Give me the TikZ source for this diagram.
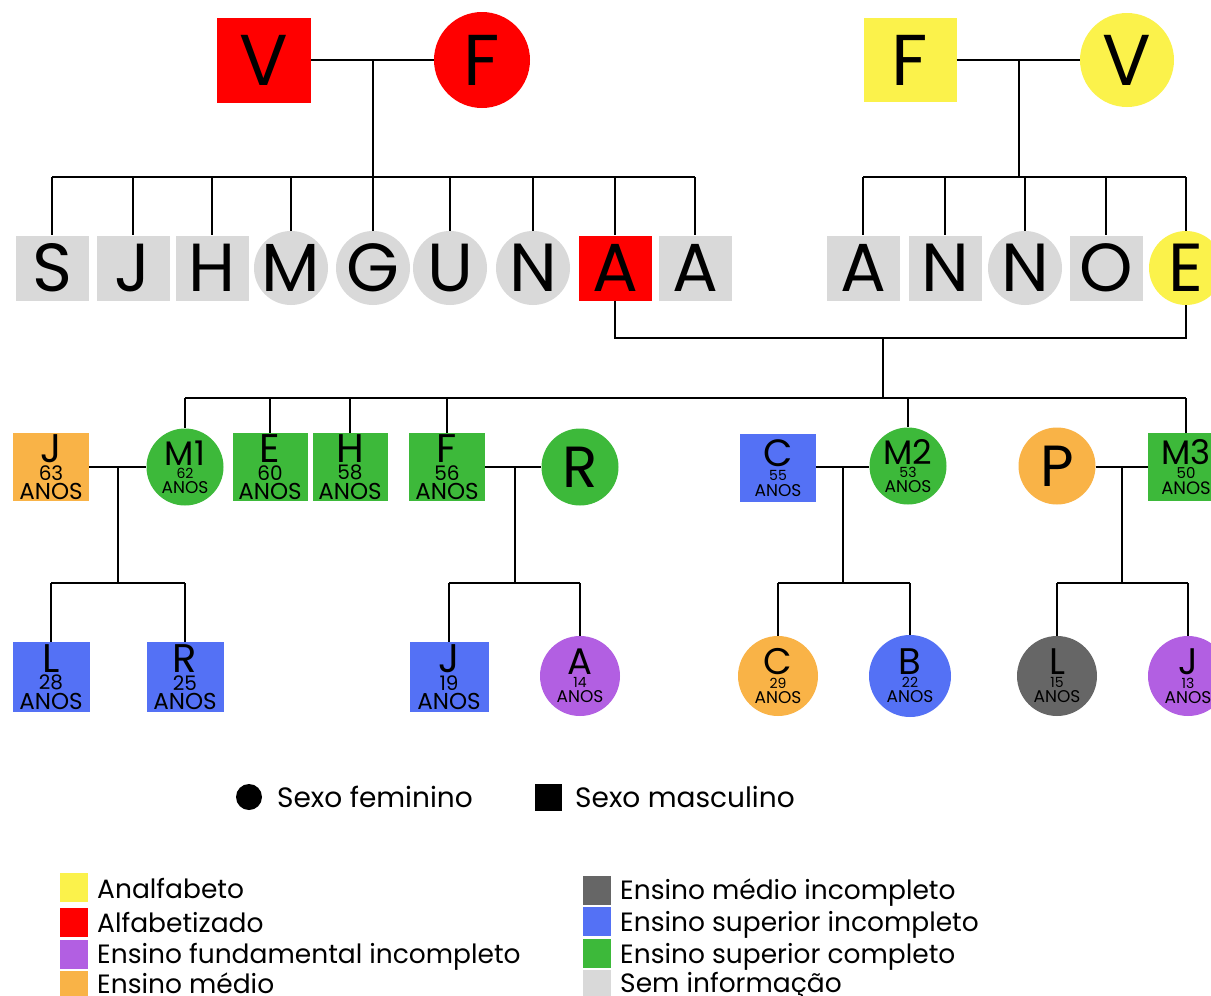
\documentclass[tikz,border=0pt]{standalone}
\usepackage{fontspec}
\setmainfont{Poppins}
\definecolor{cred}{HTML}{FF0000}
\definecolor{cyel}{HTML}{FBF24B}
\definecolor{cgray}{HTML}{D9D9D9}
\definecolor{cgreen}{HTML}{3DB93A}
\definecolor{corange}{HTML}{F9B347}
\definecolor{cblue}{HTML}{5471F5}
\definecolor{cpurple}{HTML}{B25FE2}
\definecolor{cdgray}{HTML}{666666}
\newcommand\ptxt[6]{\vbox{\offinterlineskip\halign{\hfil##\hfil\cr
\fontsize{#3}{#3}\selectfont #1\cr\noalign{\kern#6}
\fontsize{#4}{#4}\selectfont #2\cr\noalign{\kern#6}
\fontsize{#5}{#5}\selectfont ANOS\cr}}}
\newcommand\sqt[2]{\ptxt{#1}{#2}{40}{20}{23}{3pt}}
\newcommand\cit[2]{\makebox[0pt]{\ptxt{#1}{#2}{34}{14}{17}{3pt}}}
\newcommand\citb[2]{\makebox[0pt]{\ptxt{#1}{#2}{37}{14}{17}{3pt}}}
\newcommand\cz[1]{\makebox[0pt]{#1}}
\newcommand\fA{\fontsize{72}{72}\selectfont}
\newcommand\fB{\fontsize{68}{68}\selectfont}
\newcommand\fC{\fontsize{58}{58}\selectfont}
\newcommand\fL{\fontsize{26.5}{26.5}\selectfont}
\newcommand\fS{\fontsize{28}{28}\selectfont}
\tikzset{
  msq/.style={rectangle, inner sep=0pt, draw=none},
  fci/.style={circle, inner sep=0pt, draw=none},
  lnk/.style={line width=1.6pt, black},
  lgt/.style={anchor=base west, inner sep=0pt, font=\fL},
  sw/.style={rectangle, inner sep=0pt, minimum width=28pt, minimum height=29pt}
}
\begin{document}
\begin{tikzpicture}[x=1pt,y=-1pt]
\useasboundingbox (0,0) rectangle (1211,996);
\clip (0,0) rectangle (1211,996);
\fill[white] (0,0) rectangle (1211,996);

% generation 1
\node[msq, fill=cred, minimum width=94pt, minimum height=85pt, font=\fA] (v1) at (264,60) {V};
\node[fci, fill=cred, minimum size=96pt, font=\fA] (f1) at (482,60) {\cz{F}};
\node[msq, fill=cyel, minimum width=93pt, minimum height=84pt, font=\fA] (f2) at (910,60) {F};
\node[fci, fill=cyel, minimum size=94pt, font=\fA] (v2) at (1127,60) {\cz{V}};

% generation 2
\tikzset{g2s/.style={msq, minimum width=73pt, minimum height=65pt, font=\fB},
         g2c/.style={fci, minimum size=74pt, font=\fB}}
\node[g2s, fill=cgray] (s1) at (52,268) {S};
\node[g2s, fill=cgray] (s2) at (133,268) {J};
\node[g2s, fill=cgray] (s3) at (212,268) {H};
\node[g2c, fill=cgray] (s4) at (291,268) {\cz{M}};
\node[g2c, fill=cgray] (s5) at (373,268) {\cz{G}};
\node[g2c, fill=cgray] (s6) at (450,268) {\cz{U}};
\node[g2c, fill=cgray] (s7) at (533,268) {\cz{N}};
\node[g2s, fill=cred] (s8) at (615,268) {A};
\node[g2s, fill=cgray] (s9) at (695,268) {A};
\node[g2s, fill=cgray] (t1) at (863,268) {A};
\node[g2s, fill=cgray] (t2) at (945,268) {N};
\node[g2c, fill=cgray] (t3) at (1025,268) {\cz{N}};
\node[g2s, fill=cgray] (t4) at (1106,268) {O};
\node[g2c, fill=cyel] (t5) at (1186,268) {\cz{E}};

% generation 3
\tikzset{g3s/.style={msq, minimum width=76pt, minimum height=68pt},
         g3c/.style={fci, minimum size=77pt}}
\node[g3s, fill=corange] (j3) at (51,467) {\sqt{J}{63}};
\node[g3c, fill=cgreen] (m13) at (185,467) {\cit{M1}{62}};
\node[g3s, fill=cgreen, minimum width=75pt] (e3) at (270,467) {\sqt{E}{60}};
\node[g3s, fill=cgreen, minimum width=75pt] (h3) at (350,467) {\sqt{H}{58}};
\node[g3s, fill=cgreen] (f3) at (447,467) {\sqt{F}{56}};
\node[g3c, fill=cgreen, font=\fC] (r3) at (580,467) {\cz{R}};
\node[g3s, fill=cblue] (c3) at (778,468) {\makebox[0pt]{\ptxt{C}{55}{38}{14}{17}{4pt}}};
\node[g3c, fill=cgreen] (m23) at (908,466) {\cit{M2}{53}};
\node[g3c, fill=corange, font=\fC] (p3) at (1057,466) {\cz{P}};
\node[g3s, fill=cgreen] (m33) at (1186,467) {\makebox[0pt]{\ptxt{M3}{50}{34}{15}{18}{3pt}}};

% generation 4
\tikzset{g4s/.style={msq, minimum width=77pt, minimum height=70pt},
         g4c/.style={fci, minimum size=80pt}}
\node[g4s, fill=cblue] (l4) at (51,677) {\sqt{L}{28}};
\node[g4s, fill=cblue] (r4) at (185,677) {\sqt{R}{25}};
\node[g4s, fill=cblue, minimum width=79pt] (j4) at (449,677) {\sqt{J}{19}};
\node[g4c, fill=cpurple] (a4) at (580,676) {\citb{A}{14}};
\node[g4c, fill=corange] (c4) at (778,676) {\citb{C}{29}};
\node[g4c, fill=cblue, minimum size=82pt] (b4) at (910,676) {\citb{B}{22}};
\node[g4c, fill=cdgray] (l44) at (1057,676) {\citb{L}{15}};
\node[g4c, fill=cpurple] (j44) at (1188,676) {\citb{J}{13}};

% connectors generation 1 -> 2
\coordinate (m1) at (373,60);
\coordinate (b1) at (373,177);
\draw[lnk] (v1) -- (f1);
\draw[lnk] (m1) -- (b1);
\draw[lnk] (s1.north |- b1) -- (s9.north |- b1);
\foreach \n in {s1,s2,s3,s4,s5,s6,s7,s8,s9}
  \draw[lnk] (\n.north |- b1) -- (\n.north);

\coordinate (m2) at (1019,60);
\coordinate (b2) at (1019,177);
\draw[lnk] (f2) -- (v2);
\draw[lnk] (m2) -- (b2);
\draw[lnk] (t1.north |- b2) -- (t5.north |- b2);
\foreach \n in {t1,t2,t3,t4,t5}
  \draw[lnk] (\n.north |- b2) -- (\n.north);

% A + E
\coordinate (mae) at (883,338);
\coordinate (b3) at (883,398);
\draw[lnk] (s8.south) -- (s8.south |- mae) -- (t5.south |- mae) -- (t5.south);
\draw[lnk] (mae) -- (b3);
\draw[lnk] (m13.north |- b3) -- (m33.north |- b3);
\foreach \n in {m13,e3,h3,f3,m23,m33}
  \draw[lnk] (\n.north |- b3) -- (\n.north);

% generation 3 couples
\coordinate (q1) at (118,467);
\coordinate (q1b) at (118,583);
\draw[lnk] (j3) -- (m13);
\draw[lnk] (q1) -- (q1b);
\draw[lnk] (l4.north |- q1b) -- (r4.north |- q1b);
\foreach \n in {l4,r4} \draw[lnk] (\n.north |- q1b) -- (\n.north);

\coordinate (q2) at (515,467);
\coordinate (q2b) at (515,583);
\draw[lnk] (f3) -- (r3);
\draw[lnk] (q2) -- (q2b);
\draw[lnk] (j4.north |- q2b) -- (a4.north |- q2b);
\foreach \n in {j4,a4} \draw[lnk] (\n.north |- q2b) -- (\n.north);

\coordinate (q3) at (843,467);
\coordinate (q3b) at (843,583);
\draw[lnk] (c3.east |- q3) -- (m23.west |- q3);
\draw[lnk] (q3) -- (q3b);
\draw[lnk] (c4.north |- q3b) -- (b4.north |- q3b);
\foreach \n in {c4,b4} \draw[lnk] (\n.north |- q3b) -- (\n.north);

\coordinate (q4) at (1122,467);
\coordinate (q4b) at (1122,583);
\draw[lnk] (p3.east |- q4) -- (m33.west |- q4);
\draw[lnk] (q4) -- (q4b);
\draw[lnk] (l44.north |- q4b) -- (j44.north |- q4b);
\foreach \n in {l44,j44} \draw[lnk] (\n.north |- q4b) -- (\n.north);

% legend: sex
\node[fci, fill=black, minimum size=26pt] (lf) at (249,797) {};
\node[lgt, font=\fS] (lft) at (277,807) {Sexo feminino};
\node[msq, fill=black, minimum size=27pt] (lm) at (548,797) {};
\node[lgt, font=\fS] (lmt) at (575,807) {Sexo masculino};

% legend: education
\node[sw, fill=cyel] (k1) at (74,887) {};
\node[sw, fill=cred] (k2) at (74,922) {};
\node[sw, fill=cpurple] (k3) at (74,954) {};
\node[sw, fill=corange] (k4) at (74,985) {};
\node[lgt] (k1t) at (97,898) {Analfabeto};
\node[lgt] (k2t) at (97,932) {Alfabetizado};
\node[lgt] (k3t) at (97,963) {Ensino fundamental incompleto};
\node[lgt] (k4t) at (97,993) {Ensino médio};
\node[sw, fill=cdgray] (k5) at (597,890) {};
\node[sw, fill=cblue] (k6) at (597,921) {};
\node[sw, fill=cgreen] (k7) at (597,953) {};
\node[sw, fill=cgray] (k8) at (597,984) {};
\node[lgt] (k5t) at (620,899) {Ensino médio incompleto};
\node[lgt] (k6t) at (620,931) {Ensino superior incompleto};
\node[lgt] (k7t) at (620,963) {Ensino superior completo};
\node[lgt] (k8t) at (620,992) {Sem informação};
\end{tikzpicture}
\end{document}
